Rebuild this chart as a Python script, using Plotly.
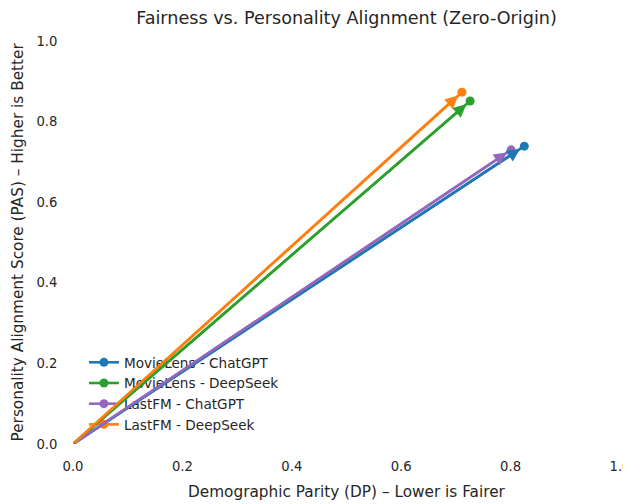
import plotly.graph_objects as go

series = ["MovieLens - ChatGPT", "MovieLens - DeepSeek", "LastFM - ChatGPT", "LastFM - DeepSeek"]
dp_values = [0.825, 0.726, 0.801, 0.711]
pas_values = [0.739, 0.851, 0.730, 0.873]
colors = ["#1f77b4", "#2ca02c", "#9467bd", "#ff7f0e"]
ticks = [0.0, 0.2, 0.4, 0.6, 0.8, 1.0]
tick_labels = ["0.0", "0.2", "0.4", "0.6", "0.8", "1.0"]

FONT = "DejaVu Sans"
TXT = "#262626"
# page body has an 8px margin; figure sized to fill the rest of the window
W, H = 623, 496
L, R, T, B = 65, 11, 33, 60

fig = go.Figure()
annotations = []
for name, dx, py, c in zip(series, dp_values, pas_values, colors):
    fig.add_trace(go.Scatter(
        x=[0, dx], y=[0, py], mode="lines", showlegend=False,
        line=dict(color=c, width=2.6), cliponaxis=False, hoverinfo="skip",
    ))
    fig.add_trace(go.Scatter(
        x=[dx], y=[py], mode="markers", showlegend=False,
        marker=dict(color=c, size=9), cliponaxis=False,
    ))
    annotations.append(dict(
        x=dx, y=py, ax=0, ay=0, xref="x", yref="y", axref="x", ayref="y",
        showarrow=True, arrowhead=2, arrowsize=1.0, arrowwidth=2.6,
        arrowcolor=c, standoff=5, text="",
    ))
# legend entries
for name, c in zip(series, colors):
    fig.add_trace(go.Scatter(
        x=[None], y=[None], mode="lines+markers", name=name,
        line=dict(color=c, width=2.6), marker=dict(color=c, size=9),
    ))

annotations.append(dict(
    text="Demographic Parity (DP) – Lower is Fairer", xref="paper", yref="paper",
    x=0.5, y=-(484 - (H - B)) / (H - T - B), xanchor="center", yanchor="middle",
    showarrow=False, font=dict(size=15.3, color=TXT)))
annotations.append(dict(
    text="Personality Alignment Score (PAS) – Higher is Better", xref="paper", yref="paper",
    x=-(L - 9) / (W - L - R), y=0.5, xanchor="center", yanchor="middle", textangle=-90,
    showarrow=False, font=dict(size=15.3, color=TXT)))

fig.update_layout(
    width=W, height=H,
    paper_bgcolor="white", plot_bgcolor="white",
    margin=dict(l=L, r=R, t=T, b=B, autoexpand=False),
    font=dict(family=FONT, size=13.2, color=TXT),
    title=dict(text="Fairness vs. Personality Alignment (Zero-Origin)",
               x=338.5 / W, xanchor="center", y=1 - 10 / H, yanchor="middle",
               font=dict(size=17.6, color=TXT)),
    showlegend=True,
    legend=dict(x=0.02, y=0.01, xanchor="left", yanchor="bottom",
                bgcolor="rgba(255,255,255,0)", font=dict(size=13.6, color=TXT),
                tracegroupgap=0, itemwidth=30),
    annotations=annotations,
)
fig.update_xaxes(range=[0, 1], tickvals=ticks, ticktext=tick_labels, automargin=False,
                 showgrid=False, zeroline=False, showline=False,
                 ticks="outside", ticklen=10, tickcolor="white")
fig.update_yaxes(range=[0, 1], tickvals=ticks, ticktext=tick_labels, automargin=False,
                 showgrid=False, zeroline=False, showline=False,
                 ticks="outside", ticklen=12, tickcolor="white")

fig.write_html("out.html")
